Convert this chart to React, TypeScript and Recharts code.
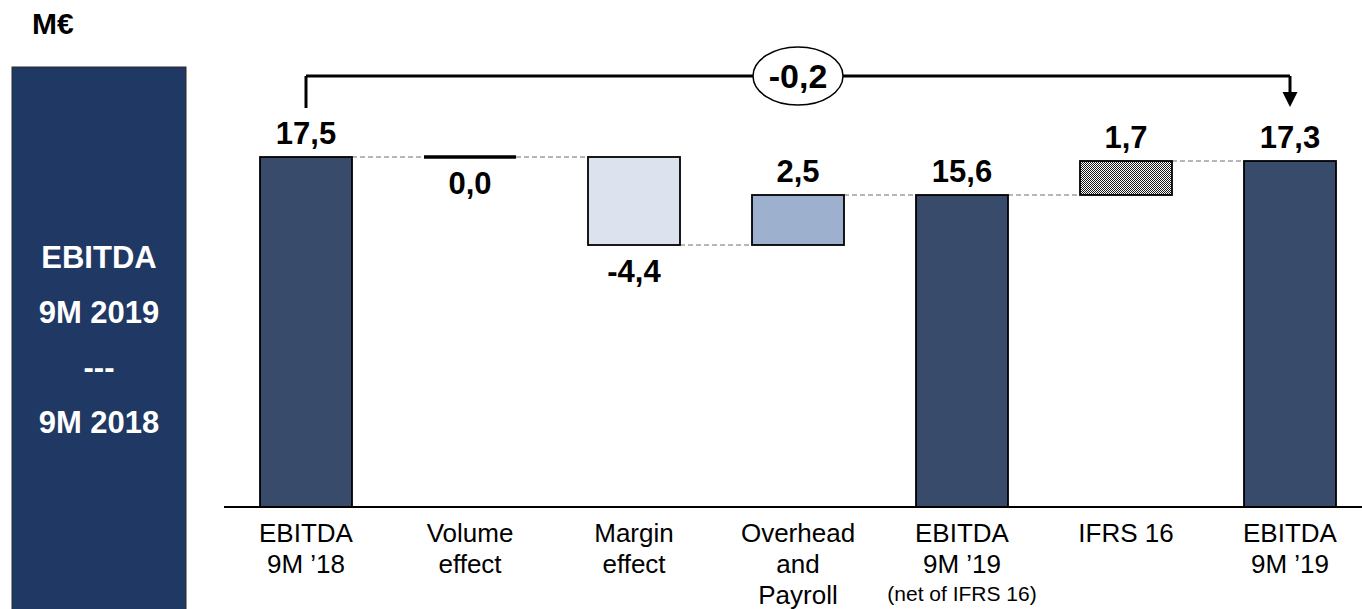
import React from 'react';
import { BarChart, Bar, XAxis, YAxis, ReferenceLine, ReferenceDot } from 'recharts';

// ---- chart content ----
const categoryLines: string[][] = [
  ['EBITDA', '9M ’18'],
  ['Volume', 'effect'],
  ['Margin', 'effect'],
  ['Overhead', 'and', 'Payroll'],
  ['EBITDA', '9M ’19', '(net of IFRS 16)'],
  ['IFRS 16'],
  ['EBITDA', '9M ’19'],
];
const values = [17.5, 0.0, -4.4, 2.5, 15.6, 1.7, 17.3];
const isTotal = [true, false, false, false, true, false, true];
const sidePanelLines = ['EBITDA', '9M 2019', '---', '9M 2018'];
const unitLabel = 'M€';

// ---- look ----
const FONT = "'Liberation Sans', Arial, sans-serif";
const NAVY = '#394B6B';
const barFills = [NAVY, 'none', '#DDE3EE', '#9DB0CE', NAVY, 'url(#ifrsHatch)', NAVY];

const CHART_W = 1380;
const CHART_H = 609;
const M_LEFT = 224;
const M_RIGHT = 8;
const AXIS_H = 102;
const BAR_W = 92;
const BAND = (CHART_W - M_LEFT - M_RIGHT) / values.length;
const GAP = BAND - BAR_W;
const Y_MAX = 25.35;
const BRACKET_LEVEL = 21.55;

const names = categoryLines.map((l) => l.join(' '));
const fmt = (v: number) => v.toFixed(1).replace('.', ',');

// running totals -> invisible base + visible span for each step
const rows = (() => {
  let running = 0;
  return values.map((v, i) => {
    let base: number;
    if (isTotal[i]) {
      base = 0;
      running = v;
    } else {
      base = v < 0 ? running + v : running;
      running += v;
    }
    return { name: names[i], value: v, total: isTotal[i], base, span: Math.abs(v) };
  });
})();

const totalChange = values[values.length - 1] - values[0];

const WaterfallBar = (props: any) => {
  const { x, y, width, height, index, payload } = props;
  const v: number = payload.value;
  const fill = barFills[index];
  const isLast = index === rows.length - 1;
  const levelY = v < 0 ? y + height : y;
  const below = !payload.total && v <= 0;
  const labelY = below ? y + height + 37 : y - 13;
  return (
    <g>
      <defs>
        <pattern id="ifrsHatch" width="2" height="2" patternUnits="userSpaceOnUse">
          <rect width="2" height="2" fill="#ffffff" />
          <rect width="1" height="1" fill="#1a1a1a" />
          <rect x="1" y="1" width="1" height="1" fill="#1a1a1a" />
        </pattern>
      </defs>
      {!isLast && (
        <line
          x1={x + width}
          x2={x + width + GAP}
          y1={levelY}
          y2={levelY}
          stroke="#6e6e6e"
          strokeWidth={1}
          strokeDasharray="5 3"
        />
      )}
      {height > 0 ? (
        <rect x={x} y={y} width={width} height={height} fill={fill} stroke="#000" strokeWidth={1.8} />
      ) : (
        <line x1={x} x2={x + width} y1={y} y2={y} stroke="#000" strokeWidth={3.5} />
      )}
      <text
        x={x + width / 2}
        y={labelY}
        textAnchor="middle"
        fontFamily={FONT}
        fontWeight="bold"
        fontSize={31}
        fill="#000"
      >
        {fmt(v)}
      </text>
    </g>
  );
};

const CategoryTick = (props: any) => {
  const { x, y, payload } = props;
  const idx = names.indexOf(payload.value);
  const lines = categoryLines[idx] || [];
  return (
    <g>
      {lines.map((line, i) => {
        const small = line.startsWith('(');
        return (
          <text
            key={i}
            x={x}
            y={y + (small ? 94 : 35 + i * 31)}
            textAnchor="middle"
            fontFamily={FONT}
            fontSize={small ? 21 : 26}
            fill="#000"
          >
            {line}
          </text>
        );
      })}
    </g>
  );
};

const ChangeBadge = (props: any) => {
  const { cx, cy } = props;
  return (
    <g>
      <ellipse cx={cx} cy={cy} rx={45} ry={29} fill="#fff" stroke="#000" strokeWidth={1.5} />
      <text
        x={cx}
        y={cy + 12}
        textAnchor="middle"
        fontFamily={FONT}
        fontWeight="bold"
        fontSize={34}
        fill="#000"
      >
        {fmt(totalChange)}
      </text>
    </g>
  );
};

const ArrowHead = (props: any) => {
  const { cx, cy } = props;
  return <polygon points={`${cx - 7.5},${cy - 15} ${cx + 7.5},${cy - 15} ${cx},${cy}`} fill="#000" />;
};

export default function App() {
  return (
    <div
      style={{
        position: 'absolute',
        left: 0,
        top: 0,
        width: 1362,
        height: 609,
        overflow: 'hidden',
        background: '#fff',
      }}
    >
      <svg width={1362} height={609} style={{ position: 'absolute', left: 0, top: 0 }}>
        <text x={32} y={34} fontFamily={FONT} fontWeight="bold" fontSize={30} fill="#000">
          {unitLabel}
        </text>
        <rect x={12} y={67} width={174} height={560} fill="#1F3864" stroke="#2b2b2b" strokeWidth={1} />
        {sidePanelLines.map((t, i) => (
          <text
            key={i}
            x={99}
            y={268 + i * 55}
            textAnchor="middle"
            fontFamily={FONT}
            fontWeight="bold"
            fontSize={31}
            fill="#fff"
          >
            {t}
          </text>
        ))}
      </svg>
      <div style={{ position: 'absolute', left: 0, top: 0 }}>
        <BarChart
          width={CHART_W}
          height={CHART_H}
          data={rows}
          margin={{ top: 0, right: M_RIGHT, bottom: 0, left: M_LEFT }}
          barSize={BAR_W}
        >
          <XAxis
            dataKey="name"
            height={AXIS_H}
            tickLine={false}
            tickSize={0}
            tickMargin={0}
            axisLine={{ stroke: '#000', strokeWidth: 2 }}
            tick={<CategoryTick />}
            interval={0}
          />
          <YAxis hide domain={[0, Y_MAX]} type="number" allowDataOverflow />
          <Bar dataKey="base" stackId="w" fill="transparent" isAnimationActive={false} />
          <Bar dataKey="span" stackId="w" shape={WaterfallBar} isAnimationActive={false} />
          <ReferenceLine
            segment={[
              { x: names[0], y: 19.95 },
              { x: names[0], y: BRACKET_LEVEL },
            ]}
            stroke="#000"
            strokeWidth={3}
          />
          <ReferenceLine
            segment={[
              { x: names[0], y: BRACKET_LEVEL },
              { x: names[names.length - 1], y: BRACKET_LEVEL },
            ]}
            stroke="#000"
            strokeWidth={3}
          />
          <ReferenceLine
            segment={[
              { x: names[names.length - 1], y: BRACKET_LEVEL },
              { x: names[names.length - 1], y: 20.7 },
            ]}
            stroke="#000"
            strokeWidth={3}
          />
          <ReferenceDot x={names[names.length - 1]} y={20.0} shape={ArrowHead} />
          <ReferenceDot x={names[3]} y={BRACKET_LEVEL} shape={ChangeBadge} />
        </BarChart>
      </div>
    </div>
  );
}
